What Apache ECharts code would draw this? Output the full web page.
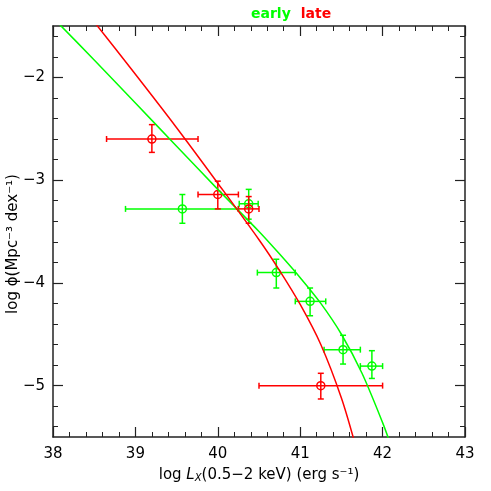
<!DOCTYPE html>
<html>
<head>
<meta charset="utf-8">
<script src="https://cdn.jsdelivr.net/npm/echarts@6/dist/echarts.min.js"></script>
<style>
  html, body { margin: 0; padding: 0; background: #fff; }
  #chart { width: 491px; height: 491px; }
</style>
</head>
<body>
<div id="chart"></div>
<script>
// axis ranges and tick labels
const xTicks = [38, 39, 40, 41, 42, 43];
const yTicks = [-5, -4, -3, -2];
const yMinorTicks = [];
for (let k = -27; k <= -8; k++) yMinorTicks.push(+(k * 0.2).toFixed(1));

// data points: x, y, and error bar ends
const earlyX   = [39.57, 40.375, 40.71, 41.12, 41.52, 41.87];
const earlyY   = [-3.28, -3.23, -3.90, -4.18, -4.65, -4.81];
const earlyXlo = [38.88, 40.26, 40.48, 40.94, 41.29, 41.73];
const earlyXhi = [40.25, 40.49, 40.94, 41.31, 41.73, 42.00];
const earlyYlo = [-3.42, -3.38, -4.05, -4.32, -4.79, -4.93];
const earlyYhi = [-3.14, -3.09, -3.77, -4.05, -4.51, -4.66];

const lateX   = [39.20, 40.00, 40.375, 41.25];
const lateY   = [-2.60, -3.14, -3.28, -5.00];
const lateXlo = [38.65, 39.76, 40.25, 40.50];
const lateXhi = [39.76, 40.25, 40.50, 42.00];
const lateYlo = [-2.73, -3.28, -3.42, -5.13];
const lateYhi = [-2.46, -3.01, -3.16, -4.88];

// fitted curves
const earlyCurveX = [38.0, 38.5, 39.0, 39.5, 40.0, 40.5, 40.75, 41.0, 41.25, 41.5, 41.75, 42.0, 42.1];
const earlyCurveY = [-1.42, -1.83, -2.25, -2.67, -3.09, -3.50, -3.72, -3.95, -4.20, -4.50, -4.88, -5.36, -5.58];
const lateCurveX = [38.4, 38.5, 39.0, 39.5, 40.0, 40.5, 40.75, 41.0, 41.25, 41.5, 41.67];
const lateCurveY = [-1.36, -1.46, -1.97, -2.49, -3.03, -3.58, -3.88, -4.21, -4.60, -5.12, -5.58];

const GREEN = '#00ff00';
const RED = '#ff0000';

const zip = (xs, ys) => xs.map((x, i) => [x, ys[i]]);
const errRows = (x, y, xlo, xhi, ylo, yhi) => x.map((v, i) => [v, y[i], xlo[i], xhi[i], ylo[i], yhi[i]]);

function errorBars(color) {
  return function (params, api) {
    const p = api.coord([api.value(0), api.value(1)]);
    const l = api.coord([api.value(2), api.value(1)]);
    const r = api.coord([api.value(3), api.value(1)]);
    const b = api.coord([api.value(0), api.value(4)]);
    const t = api.coord([api.value(0), api.value(5)]);
    const c = 3, rad = 4;
    const st = { stroke: color, lineWidth: 1.5, fill: null };
    const line = (x1, y1, x2, y2) => ({ type: 'line', shape: { x1, y1, x2, y2 }, style: st });
    return {
      type: 'group',
      children: [
        line(l[0], l[1], r[0], r[1]),
        line(l[0], l[1] - c, l[0], l[1] + c),
        line(r[0], r[1] - c, r[0], r[1] + c),
        line(b[0], b[1], t[0], t[1]),
        line(b[0] - c, b[1], b[0] + c, b[1]),
        line(t[0] - c, t[1], t[0] + c, t[1]),
        { type: 'circle', shape: { cx: p[0], cy: p[1], r: rad }, style: st }
      ]
    };
  };
}

const fmtMinus = v => (v < 0 ? '\u2212' + Math.abs(v) : String(v));
const font = 'DejaVu Sans';
const axisLine = { lineStyle: { color: '#222', width: 1.5 } };

const xAxisBase = {
  type: 'value', min: 38, max: 43, interval: 1,
  axisLine,
  axisTick: { inside: true, length: 10, lineStyle: { color: '#222', width: 1.2 } },
  minorTick: { show: true, splitNumber: 5, length: 5, lineStyle: { color: '#222', width: 1 } },
  splitLine: { show: false }
};

// y: majors and minors as two stacked axes, because min -5.5 is not on the grid
function yAxisPair(position, withLabel) {
  const major = {
    type: 'value', min: -5.5, max: -1.5, position,
    axisLine,
    axisTick: { inside: true, length: 10, customValues: yTicks, lineStyle: { color: '#222', width: 1.2 } },
    axisLabel: withLabel
      ? { show: true, customValues: yTicks, color: '#000', fontFamily: font, fontSize: 15, margin: 8, formatter: fmtMinus }
      : { show: false },
    splitLine: { show: false }
  };
  const minor = {
    type: 'value', min: -5.5, max: -1.5, position,
    axisLine: { show: false },
    axisTick: { inside: true, length: 5, customValues: yMinorTicks, lineStyle: { color: '#222', width: 1 } },
    axisLabel: { show: false },
    splitLine: { show: false }
  };
  return [major, minor];
}

const chart = echarts.init(document.getElementById('chart'));
chart.setOption({
  animation: false,
  backgroundColor: '#fff',
  title: {
    text: '{e|early}  {l|late}',
    left: 246, top: 0,
    textStyle: {
      rich: {
        e: { color: GREEN, fontFamily: font, fontSize: 14, fontWeight: 'bold' },
        l: { color: RED, fontFamily: font, fontSize: 14, fontWeight: 'bold' }
      }
    }
  },
  graphic: [{
    type: 'text', x: 13, y: 244, rotation: Math.PI / 2,
    style: {
      text: 'log \u03D5(Mpc\u207B\u00B3 dex\u207B\u00B9)',
      fill: '#000', font: '15px "DejaVu Sans"', align: 'center', verticalAlign: 'middle'
    }
  }],
  grid: { left: 53, right: 26, top: 26, bottom: 54, outerBoundsMode: 'none' },
  xAxis: [
    Object.assign({}, xAxisBase, {
      position: 'bottom',
      axisLabel: { color: '#000', fontFamily: font, fontSize: 15, margin: 10,
        formatter: v => xTicks.includes(v) ? String(v) : '' },
      name: 'log {i|L}{s|X}(0.5\u22122 keV) (erg s\u207B\u00B9)',
      nameLocation: 'middle', nameGap: 30,
      nameTextStyle: {
        color: '#000', fontFamily: font, fontSize: 15,
        rich: {
          i: { fontFamily: font, fontSize: 15, fontStyle: 'italic', color: '#000' },
          s: { fontFamily: font, fontSize: 10, fontStyle: 'italic', color: '#000', verticalAlign: 'bottom', padding: [6, 0, 0, 0] }
        }
      }
    }),
    Object.assign({}, xAxisBase, { position: 'top', axisLabel: { show: false } })
  ],
  yAxis: yAxisPair('left', true).concat(yAxisPair('right', false)),
  series: [
    {
      type: 'line', data: zip(earlyCurveX, earlyCurveY), smooth: 0.3,
      showSymbol: false, lineStyle: { color: GREEN, width: 1.5 }, clip: true
    },
    {
      type: 'line', data: zip(lateCurveX, lateCurveY), smooth: 0.3,
      showSymbol: false, lineStyle: { color: RED, width: 1.5 }, clip: true
    },
    {
      type: 'custom', renderItem: errorBars(GREEN),
      data: errRows(earlyX, earlyY, earlyXlo, earlyXhi, earlyYlo, earlyYhi)
    },
    {
      type: 'custom', renderItem: errorBars(RED),
      data: errRows(lateX, lateY, lateXlo, lateXhi, lateYlo, lateYhi)
    }
  ]
});
</script>
</body>
</html>
